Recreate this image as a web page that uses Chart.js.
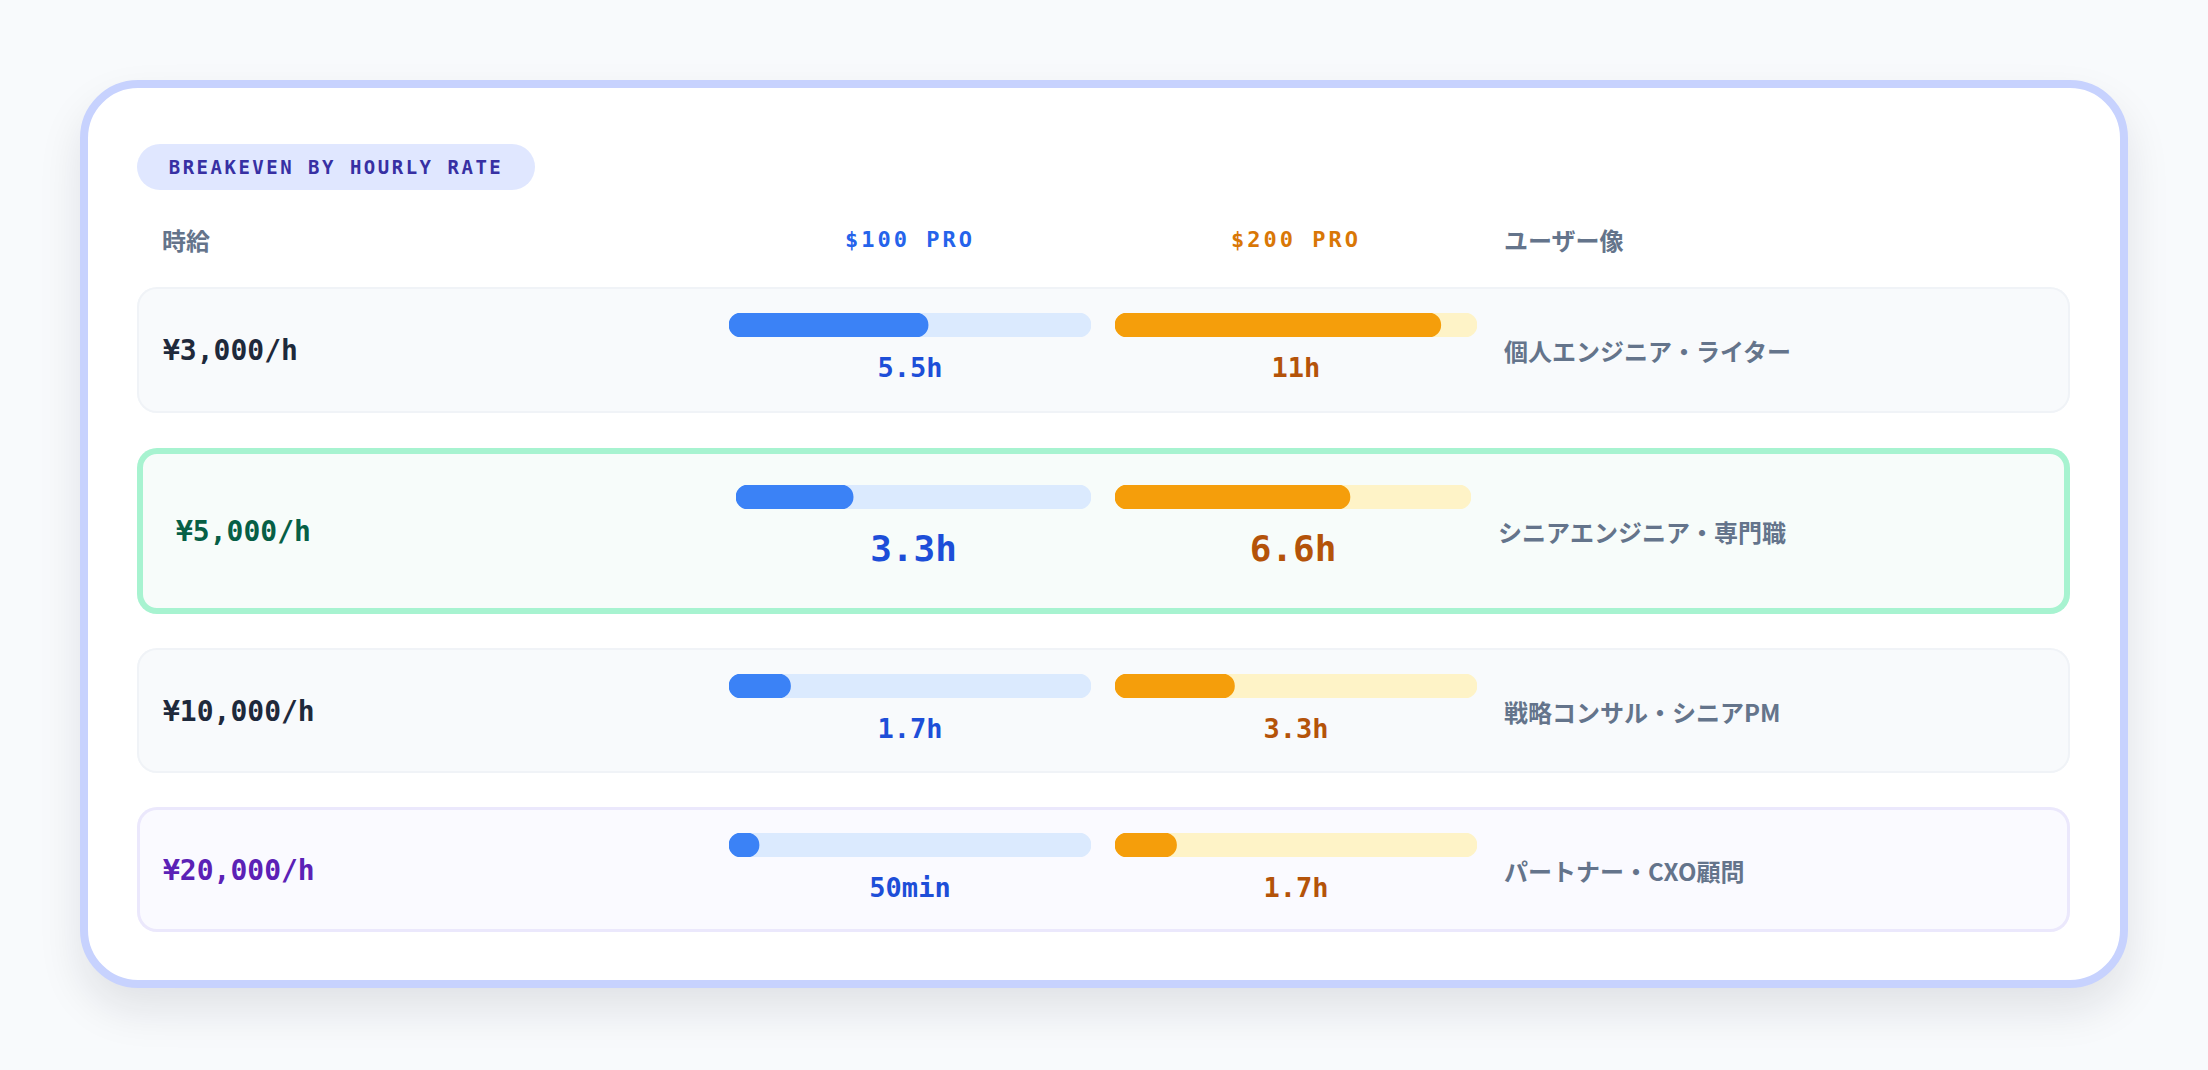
<!DOCTYPE html>
<html lang="ja">
<head>
<meta charset="utf-8">
<script src="https://cdn.jsdelivr.net/npm/chart.js@4/dist/chart.umd.min.js"></script>
<style>
  html, body { margin: 0; padding: 0; }
  body {
    width: 2208px; height: 1070px; overflow: hidden;
    background: #f8fafc; position: relative;
  }
  .mono { font-family: "DejaVu Sans Mono", monospace; font-weight: bold; }
  .jp { font-family: "Noto Sans CJK JP", sans-serif; font-weight: bold; }
  .card {
    position: absolute; left: 80px; top: 80px; width: 2048px; height: 908px;
    box-sizing: border-box; border: 8px solid #c7d2fe; border-radius: 58px;
    background: #fff; box-shadow: 0 22px 44px rgba(15, 23, 42, 0.10);
  }
  .badge {
    position: absolute; left: 49px; top: 56px; width: 398px; height: 46px;
    border-radius: 23px; background: #e0e7ff; color: #3730a3;
    font-size: 19px; letter-spacing: 2.5px; line-height: 46px; text-align: center;
  }
  .head { position: absolute; top: 151px; transform: translateY(-50%); white-space: nowrap; }
  .head.jp { font-size: 24px; color: #64748b; }
  .head.mono { font-size: 22px; letter-spacing: 3px; transform: translate(-50%, -50%); }
  .row {
    position: absolute; left: 49px; width: 1933px; border-radius: 20px;
    background: #f8fafc; box-shadow: inset 0 0 0 2px #f0f3f7;
  }
  .row.hl { background: #f7fcfa; box-shadow: inset 0 0 0 6px #a7f3d0; }
  .row.top { background: #fafaff; box-shadow: inset 0 0 0 3px #ebe8fc; }
  .rate { position: absolute; font-size: 28px; transform: translateY(-50%); white-space: nowrap; }
  .persona { position: absolute; font-size: 24px; color: #64748b; transform: translateY(-50%); white-space: nowrap; }
  .track { position: absolute; height: 24px; }
  .val { position: absolute; font-size: 27px; transform: translate(-50%, -50%); white-space: nowrap; }
  .row.hl .val { font-size: 36px; }
</style>
</head>
<body>
<div class="card" id="card">
  <div class="badge mono">BREAKEVEN BY HOURLY RATE</div>
  <div class="head jp" style="left:74px">時給</div>
  <div class="head mono" style="left:822px;color:#2563eb">$100 PRO</div>
  <div class="head mono" style="left:1208px;color:#d97706">$200 PRO</div>
  <div class="head jp" style="left:1416px">ユーザー像</div>
</div>
<script>
/* DATA */
const rates = ["¥3,000/h", "¥5,000/h", "¥10,000/h", "¥20,000/h"];
const personas = ["個人エンジニア・ライター", "シニアエンジニア・専門職", "戦略コンサル・シニアPM", "パートナー・CXO顧問"];
const pro100Hours = [5.5, 3.3, 1.7, 0.83];
const pro100Labels = ["5.5h", "3.3h", "1.7h", "50min"];
const pro200Hours = [11, 6.6, 3.3, 1.7];
const pro200Labels = ["11h", "6.6h", "3.3h", "1.7h"];
const axisMax = 10;      // 10h = full track
const barCap = 9;        // bars never go past 90% of the track
const highlightRow = 1;
const topRow = 3;

/* LAYOUT */
const rowTops = [199, 360, 560, 719];
const rowHeights = [126, 166, 125, 125];
const rateColors = ["#1e293b", "#065f46", "#1e293b", "#5b21b6"];

const plans = [
  { hours: pro100Hours, labels: pro100Labels, fill: "#3b82f6", track: "#dbeafe", text: "#1d4ed8" },
  { hours: pro200Hours, labels: pro200Labels, fill: "#f59e0b", track: "#fef3c7", text: "#b45309" }
];

const card = document.getElementById("card");

function makeBar(parent, value, plan, left, top, width) {
  const box = document.createElement("div");
  box.className = "track";
  box.style.left = left + "px";
  box.style.top = top + "px";
  box.style.width = width + "px";
  const canvas = document.createElement("canvas");
  box.appendChild(canvas);
  parent.appendChild(box);

  new Chart(canvas, {
    type: "bar",
    data: {
      labels: [""],
      datasets: [
        {
          data: [Math.min(value, barCap)],
          backgroundColor: plan.fill,
          borderRadius: 12,
          borderSkipped: false,
          grouped: false,
          order: 0,
          barPercentage: 1,
          categoryPercentage: 1
        },
        {
          data: [axisMax],
          backgroundColor: plan.track,
          borderRadius: 12,
          borderSkipped: false,
          grouped: false,
          order: 1,
          barPercentage: 1,
          categoryPercentage: 1
        }
      ]
    },
    options: {
      indexAxis: "y",
      responsive: true,
      maintainAspectRatio: false,
      animation: false,
      events: [],
      layout: { padding: 0 },
      plugins: { legend: { display: false }, tooltip: { enabled: false } },
      scales: {
        x: { display: false, min: 0, max: axisMax },
        y: { display: false }
      }
    }
  });
}

rates.forEach((rate, i) => {
  const hl = i === highlightRow;
  const row = document.createElement("div");
  row.className = "row" + (hl ? " hl" : "") + (i === topRow ? " top" : "");
  row.style.top = rowTops[i] + "px";
  row.style.height = rowHeights[i] + "px";
  card.appendChild(row);

  const mid = rowHeights[i] / 2;

  const r = document.createElement("div");
  r.className = "rate mono";
  r.textContent = rate;
  r.style.left = (hl ? 39 : 26) + "px";
  r.style.top = mid + "px";
  r.style.color = rateColors[i];
  row.appendChild(r);

  const lefts = hl ? [599, 978] : [592, 978];
  const widths = hl ? [355, 356] : [362, 362];
  const barTop = hl ? 37 : 26;
  const valY = hl ? 100 : 80;

  plans.forEach((plan, p) => {
    makeBar(row, plan.hours[i], plan, lefts[p], barTop, widths[p]);
    const v = document.createElement("div");
    v.className = "val mono";
    v.textContent = plan.labels[i];
    v.style.color = plan.text;
    v.style.left = (lefts[p] + widths[p] / 2) + "px";
    v.style.top = valY + "px";
    row.appendChild(v);
  });

  const pe = document.createElement("div");
  pe.className = "persona jp";
  pe.textContent = personas[i];
  pe.style.left = (hl ? 1361 : 1367) + "px";
  pe.style.top = mid + "px";
  row.appendChild(pe);
});
</script>
</body>
</html>
